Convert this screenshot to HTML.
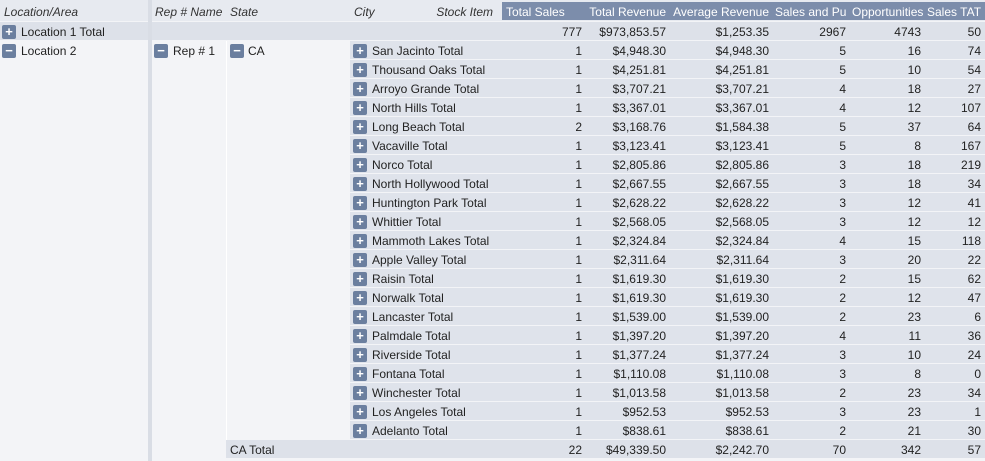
<!DOCTYPE html>
<html><head><meta charset="utf-8"><style>
body{margin:0;width:985px;height:461px;overflow:hidden;background:#f3f4f7;font-family:"Liberation Sans",Arial,sans-serif;font-size:12px;color:#222;position:relative}
div{box-sizing:border-box}
.a{position:absolute;white-space:nowrap;overflow:hidden;line-height:18px;padding-top:1px}
.hd{font-style:italic;color:#333}
.bl{background:#7c8dab;color:#fff}
.r{text-align:right}
.btn{position:absolute;width:14px;height:14px;background:#6b7f9f;border-radius:2px;color:#fff;font-weight:bold;font-size:13px;line-height:14px;text-align:center}
.row{position:absolute;left:350px;width:635px;height:18px;background:#dfe3eb}
</style></head><body>
<div class="a" style="left:0;top:0;width:148px;height:21px;background:#e7eaf0"></div>
<div class="a hd" style="left:4px;top:2px">Location/Area</div>
<div class="a" style="left:148px;top:0;width:4px;height:461px;background:#d9dde5"></div>
<div class="a" style="left:152px;top:0;width:833px;height:21px;background:#e7eaf0"></div>
<div class="a hd" style="left:155px;top:2px">Rep # Name</div>
<div class="a hd" style="left:230px;top:2px">State</div>
<div class="a hd" style="left:354px;top:2px">City</div>
<div class="a hd r" style="left:420px;top:2px;width:73px">Stock Item</div>
<div class="a bl" style="left:502px;top:2px;width:483px;height:18px"></div>
<div class="a" style="left:506px;top:2px;color:#fff">Total Sales</div>
<div class="a r" style="left:585px;top:2px;width:81px;color:#fff">Total Revenue</div>
<div class="a r" style="left:670px;top:2px;width:99px;color:#fff">Average Revenue</div>
<div class="a" style="left:775px;top:2px;width:75px;color:#fff">Sales and Pu</div>
<div class="a" style="left:852px;top:2px;width:75px;color:#fff">Opportunities</div>
<div class="a" style="left:927px;top:2px;width:56px;color:#fff">Sales TAT</div>

<div class="a" style="left:0;top:22px;width:148px;height:18px;background:#dde1e9"></div>
<div class="a" style="left:152px;top:22px;width:833px;height:18px;background:#dde1e9"></div>
<div class="btn" style="left:2px;top:25px">+</div>
<div class="a" style="left:21px;top:22px">Location 1 Total</div>
<div class="btn" style="left:2px;top:44px">−</div>
<div class="a" style="left:21px;top:41px">Location 2</div>
<div class="btn" style="left:154px;top:44px">−</div>
<div class="a" style="left:173px;top:41px">Rep # 1</div>
<div class="a" style="left:226px;top:41px;width:1px;height:400px;background:#fff"></div>
<div class="btn" style="left:230px;top:44px">−</div>
<div class="a" style="left:248px;top:41px">CA</div>
<div id="rows"></div>
<script>
const cities=["San Jacinto","Thousand Oaks","Arroyo Grande","North Hills","Long Beach","Vacaville","Norco","North Hollywood","Huntington Park","Whittier","Mammoth Lakes","Apple Valley","Raisin","Norwalk","Lancaster","Palmdale","Riverside","Fontana","Winchester","Los Angeles","Adelanto"];
const totalSales=[1,1,1,1,2,1,1,1,1,1,1,1,1,1,1,1,1,1,1,1,1];
const totalRevenue=[4948.30,4251.81,3707.21,3367.01,3168.76,3123.41,2805.86,2667.55,2628.22,2568.05,2324.84,2311.64,1619.30,1619.30,1539.00,1397.20,1377.24,1110.08,1013.58,952.53,838.61];
const avgRevenue=[4948.30,4251.81,3707.21,3367.01,1584.38,3123.41,2805.86,2667.55,2628.22,2568.05,2324.84,2311.64,1619.30,1619.30,1539.00,1397.20,1377.24,1110.08,1013.58,952.53,838.61];
const salesPu=[5,5,4,4,5,5,3,3,3,3,4,3,2,2,2,4,3,3,2,3,2];
const opps=[16,10,18,12,37,8,18,18,12,12,15,20,15,12,23,11,10,8,23,23,21];
const tat=[74,54,27,107,64,167,219,34,41,12,118,22,62,47,6,36,24,0,34,1,30];
const grand=["777","$973,853.57","$1,253.35","2967","4743","50"];
const caTotal=["22","$49,339.50","$2,242.70","70","342","57"];
const money=v=>"$"+v.toLocaleString("en-US",{minimumFractionDigits:2,maximumFractionDigits:2});
const rights=[582,666,769,846,921,981];
const host=document.getElementById('rows');
function cell(txt,right,top,name){
  const d=document.createElement('div');d.className='a r';
  d.style.cssText=`left:${right-90}px;top:${top}px;width:90px`;
  d.textContent=txt;
  
  
  host.appendChild(d);
}
grand.forEach((t,j)=>cell(t,rights[j],22,'grand-total-value'));
cities.forEach((c,i)=>{
  const top=41+i*19;
  const r=document.createElement('div');r.className='row';r.style.top=top+'px';
  
  
  host.appendChild(r);
  const b=document.createElement('div');b.className='btn';b.style.cssText=`left:353px;top:${top+3}px`;b.textContent='+';
  
  
  host.appendChild(b);
  const l=document.createElement('div');l.className='a';l.style.cssText=`left:372px;top:${top}px`;l.textContent=c+' Total';
  
  
  host.appendChild(l);
  const vals=[String(totalSales[i]),money(totalRevenue[i]),money(avgRevenue[i]),String(salesPu[i]),String(opps[i]),String(tat[i])];
  vals.forEach((t,j)=>cell(t,rights[j],top,'city-value'));
});
const ct=41+cities.length*19;
const cr=document.createElement('div');cr.className='a';cr.style.cssText=`left:226px;top:${ct}px;width:759px;height:18px;background:#dde1e9`;


host.appendChild(cr);
const cl=document.createElement('div');cl.className='a';cl.style.cssText=`left:230px;top:${ct}px`;cl.textContent='CA Total';


host.appendChild(cl);
caTotal.forEach((t,j)=>cell(t,rights[j],ct,'ca-total-value'));
</script>
</body></html>
